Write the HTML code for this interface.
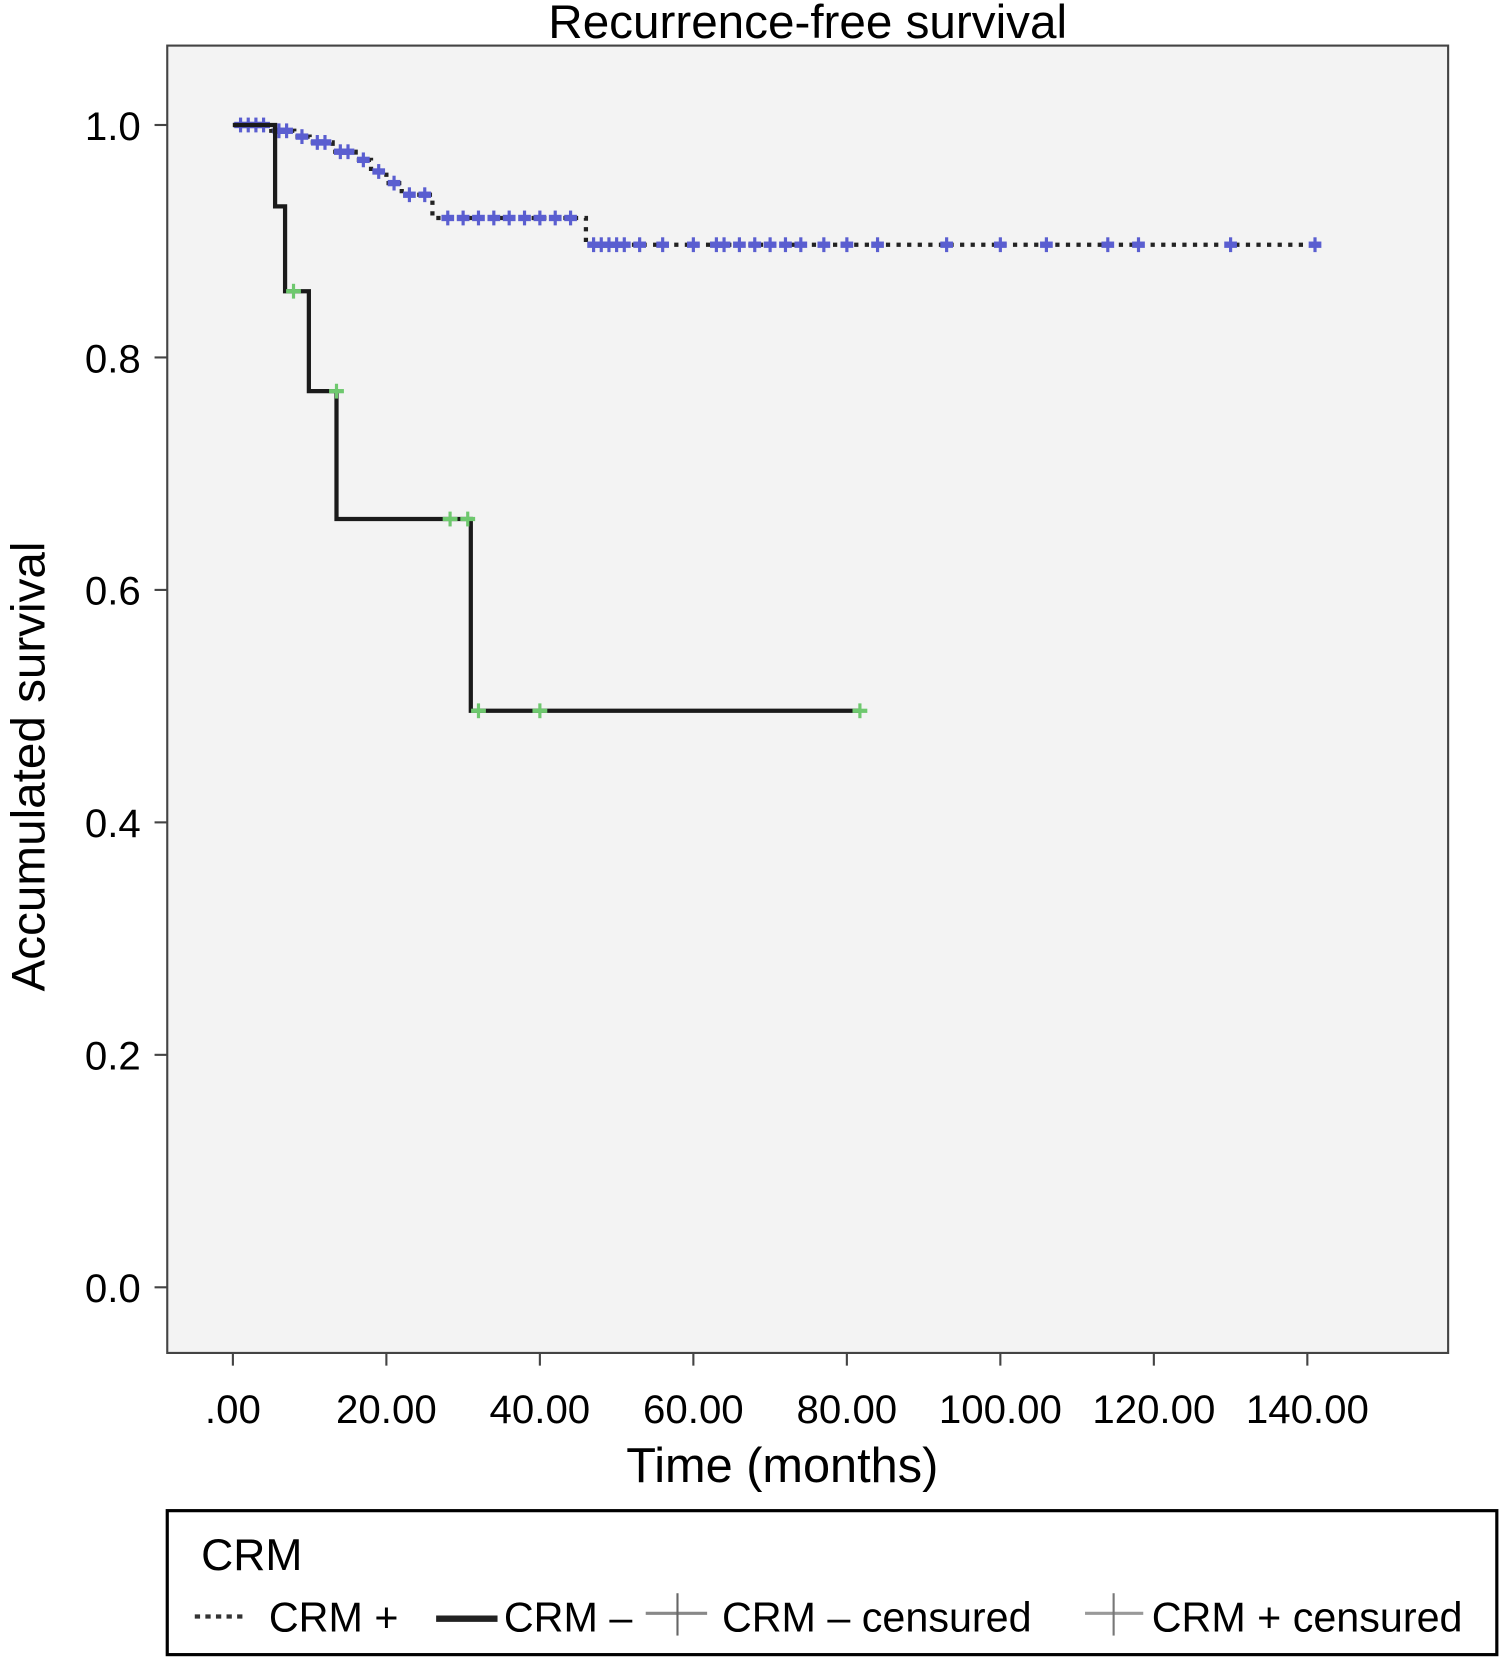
<!DOCTYPE html>
<html><head><meta charset="utf-8"><style>
html,body{margin:0;padding:0;background:#fff;}
svg{display:block;font-family:"Liberation Sans",sans-serif;}
</style></head><body>
<svg id="chart" width="1500" height="1660" viewBox="0 0 1417 1568" xmlns="http://www.w3.org/2000/svg">
<rect x="0" y="0" width="1417" height="1568" fill="#fff"/>
<text x="763" y="36" font-size="45" text-anchor="middle" fill="#000">Recurrence-free survival</text>
<rect x="158" y="43" width="1210" height="1235" fill="#f3f3f3" stroke="#444" stroke-width="2"/>
<g id="yaxis"></g>
<g id="xaxis"></g>
<text transform="translate(42,724) rotate(-90)" font-size="45" text-anchor="middle">Accumulated survival</text>
<text x="739" y="1400" font-size="46" text-anchor="middle">Time (months)</text>
<g id="series"></g>
<g>
<rect x="158" y="1427" width="1256" height="136" fill="#fff" stroke="#000" stroke-width="3"/>
<text x="190" y="1483" font-size="42">CRM</text>
<line x1="184" y1="1527" x2="232" y2="1527" stroke="#333" stroke-width="4" stroke-dasharray="5,5"/>
<text x="254" y="1541" font-size="39">CRM +</text>
<line x1="412" y1="1529" x2="470" y2="1529" stroke="#222" stroke-width="6"/>
<text x="476" y="1541" font-size="39">CRM –</text>
<line x1="610" y1="1524" x2="668" y2="1524" stroke="#888" stroke-width="3"/><line x1="640" y1="1505" x2="640" y2="1545" stroke="#666" stroke-width="2"/>
<text x="682" y="1541" font-size="39">CRM – censured</text>
<line x1="1025" y1="1524" x2="1080" y2="1524" stroke="#999" stroke-width="3"/><line x1="1052" y1="1505" x2="1052" y2="1545" stroke="#777" stroke-width="2"/>
<text x="1088" y="1541" font-size="39">CRM + censured</text>
</g>
</svg>
<script>
const yTicks=[0,0.2,0.4,0.6,0.8,1.0];
const yTickLabels=["0.0","0.2","0.4","0.6","0.8","1.0"];
const xTicks=[0,20,40,60,80,100,120,140];
const xTickLabels=[".00","20.00","40.00","60.00","80.00","100.00","120.00","140.00"];
const negTimes=[0,5.5,6.8,9.9,13.5,31];
const negSurv=[1.0,0.93,0.857,0.771,0.661,0.496];
const negEnd=81.7;
const negCensorT=[7.9,13.5,28.3,30.6,32,40,81.7];
const negCensorS=[0.857,0.771,0.661,0.661,0.496,0.496,0.496];
const posTimes=[0,5,8,10,13,16,18,20,22,26,46];
const posSurv=[1.0,0.995,0.99,0.985,0.977,0.97,0.96,0.95,0.94,0.92,0.897];
const posEnd=141;
const posCensorT=[1,2,3,4,6,7,9,11,12,14,15,17,19,21,23,25,28,30,32,34,36,38,40,42,44,47,48,49,50,51,53,56,60,63,64,66,68,70,72,74,77,80,84,93,100,106,114,118,130,141];

const X=t=>220+t*(1235-220)/140;
const Y=s=>1216-s*(1216-118);
const NS="http://www.w3.org/2000/svg";
function mk(tag,attrs,parent){const e=document.createElementNS(NS,tag);for(const k in attrs)e.setAttribute(k,attrs[k]);parent.appendChild(e);return e;}
const ya=document.getElementById('yaxis'),xa=document.getElementById('xaxis'),sg=document.getElementById('series');
yTicks.forEach((v,i)=>{
 const l=mk('line',{x1:146,x2:158,y1:Y(v),y2:Y(v),stroke:'#444','stroke-width':2},ya);
 
 
 const t=mk('text',{x:133,y:Y(v)+14,'font-size':38,'text-anchor':'end'},ya);t.textContent=yTickLabels[i];
 
 
});
xTicks.forEach((v,i)=>{
 const l=mk('line',{x1:X(v),x2:X(v),y1:1278,y2:1290,stroke:'#444','stroke-width':2},xa);
 
 
 const t=mk('text',{x:X(v),y:1344,'font-size':38,'text-anchor':'middle'},xa);t.textContent=xTickLabels[i];
 
 
});
function stepPath(times,surv,end){
 let d='M'+X(times[0])+','+Y(surv[0]);
 for(let i=1;i<times.length;i++){d+=' H'+X(times[i])+' V'+Y(surv[i]);}
 d+=' H'+X(end);return d;}
function survAt(times,surv,t){let s=surv[0];for(let i=0;i<times.length;i++)if(times[i]<=t)s=surv[i];return s;}
const pp=mk('path',{d:stepPath(posTimes,posSurv,posEnd),fill:'none',stroke:'#222','stroke-width':4,'stroke-dasharray':'4,6'},sg);


posCensorT.forEach(t=>{
 const s=survAt(posTimes,posSurv,t);
 const g=mk('g',{},sg);
 
 
 mk('line',{x1:X(t)-6,x2:X(t)+6,y1:Y(s),y2:Y(s),stroke:'#5a5ed0','stroke-width':6},g);
 mk('line',{x1:X(t),x2:X(t),y1:Y(s)-7,y2:Y(s)+7,stroke:'#5a5ed0','stroke-width':3},g);
});
const np=mk('path',{d:stepPath(negTimes,negSurv,negEnd),fill:'none',stroke:'#1a1a1a','stroke-width':4},sg);


negCensorT.forEach((t,i)=>{
 const s=negCensorS[i];
 const g=mk('g',{},sg);
 
 
 mk('line',{x1:X(t)-7,x2:X(t)+7,y1:Y(s),y2:Y(s),stroke:'#6ec86e','stroke-width':4},g);
 mk('line',{x1:X(t),x2:X(t),y1:Y(s)-7,y2:Y(s)+7,stroke:'#6ec86e','stroke-width':3},g);
});
</script>
</body></html>
